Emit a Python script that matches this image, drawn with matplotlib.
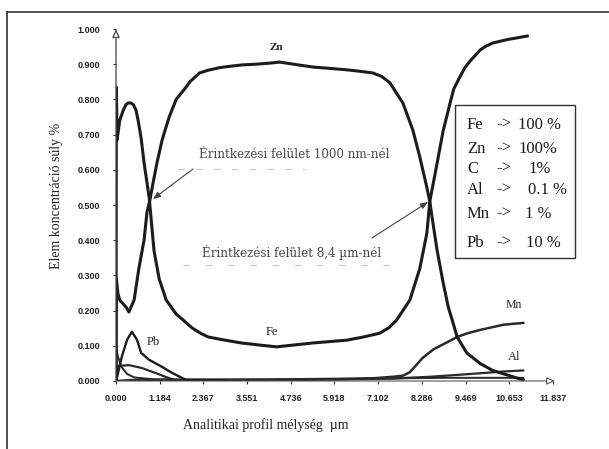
import matplotlib
matplotlib.use("Agg")
import matplotlib.pyplot as plt
from matplotlib.patches import Rectangle
from matplotlib.lines import Line2D

# ---------------- data ----------------
x_ticks = [0.0, 1.184, 2.367, 3.551, 4.736, 5.918, 7.102, 8.286, 9.469, 10.653, 11.837]
x_tick_labels = ["0.000", "1.184", "2.367", "3.551", "4.736", "5.918", "7.102",
                 "8.286", "9.469", "10.653", "11.837"]
y_ticks = [0.0, 0.1, 0.2, 0.3, 0.4, 0.5, 0.6, 0.7, 0.8, 0.9, 1.0]
y_tick_labels = ["0.000", "0.100", "0.200", "0.300", "0.400", "0.500",
                 "0.600", "0.700", "0.800", "0.900", "1.000"]

fe_x = [0, 0.01, 0.03, 0.1, 0.2, 0.27, 0.33, 0.4, 0.47, 0.54, 0.6, 0.68, 0.76, 0.9, 1.03,
        1.17, 1.36, 1.63, 1.8, 2.07, 2.3, 2.5, 2.9, 3.4, 3.9, 4.35, 5.33, 6.25, 6.7, 7.15,
        7.4, 7.6, 7.96, 8.23, 8.42, 8.5, 8.7, 8.86, 9.05, 9.15, 9.32, 9.45, 9.6, 9.86, 10.0,
        10.2, 10.6, 11.14]
fe_y = [0, 0.835, 0.685, 0.74, 0.77, 0.785, 0.79, 0.79, 0.785, 0.77, 0.74, 0.69, 0.62, 0.52, 0.37,
        0.29, 0.23, 0.19, 0.175, 0.15, 0.135, 0.125, 0.117, 0.108, 0.102, 0.097, 0.108, 0.116, 0.125, 0.136,
        0.152, 0.173, 0.23, 0.32, 0.42, 0.51, 0.62, 0.71, 0.79, 0.83, 0.865, 0.89, 0.91, 0.94, 0.95,
        0.96, 0.97, 0.98]

zn_x = [0, 0.01, 0.05, 0.1, 0.27, 0.35, 0.49, 0.62, 0.76, 0.84, 0.92, 0.98, 1.11, 1.25,
        1.44, 1.63, 1.9, 2.0, 2.26, 2.5, 2.8, 3.0, 3.42, 3.8, 4.16, 4.43, 5.0, 5.33, 5.8, 6.25,
        6.6, 6.96, 7.2, 7.42, 7.77, 8.04, 8.23, 8.42, 8.5, 8.56, 8.7, 8.86, 9.0, 9.13, 9.24,
        9.5, 9.86, 10.2, 10.6, 11.03]
zn_y = [0, 0.29, 0.25, 0.23, 0.21, 0.196, 0.23, 0.32, 0.40, 0.48, 0.515, 0.55, 0.62, 0.685,
        0.75, 0.80, 0.835, 0.85, 0.875, 0.883, 0.89, 0.893, 0.898, 0.9, 0.903, 0.906, 0.897, 0.892, 0.888, 0.884,
        0.88, 0.875, 0.865, 0.847, 0.79, 0.713, 0.636, 0.55, 0.51, 0.466, 0.37, 0.28, 0.21, 0.165, 0.125,
        0.08, 0.05, 0.03, 0.017, 0.003]

pb_x = [0, 0.05, 0.16, 0.3, 0.43, 0.57, 0.68, 0.9, 1.25, 1.52, 1.9, 3.0]
pb_y = [0.0, 0.02, 0.07, 0.117, 0.14, 0.117, 0.08, 0.06, 0.04, 0.023, 0.003, 0.002]

al_x = [0, 0.05, 0.35, 0.7, 1.09, 1.44, 1.63, 3.0, 5.0, 6.5, 7.5, 8.5, 9.2, 9.86, 10.5, 11.03]
al_y = [0.0, 0.043, 0.045, 0.037, 0.022, 0.008, 0.002, 0.002, 0.003, 0.005, 0.007, 0.012,
        0.017, 0.022, 0.027, 0.03]

mn_x = [0, 0.5, 2, 4, 6, 7, 7.5, 7.77, 7.96, 8.3, 8.6, 8.97, 9.24, 9.5, 9.86, 10.2, 10.5, 11.03]
mn_y = [0.0, 0.003, 0.003, 0.004, 0.006, 0.008, 0.012, 0.015, 0.025, 0.065, 0.09, 0.11,
        0.125, 0.135, 0.145, 0.153, 0.16, 0.165]

c_x = [0, 0.05, 0.15, 0.3, 0.5, 1.0, 2, 4, 6, 8, 9, 10, 11.03, 11.04]
c_y = [0.1, 0.07, 0.04, 0.02, 0.01, 0.005, 0.004, 0.004, 0.005, 0.008, 0.009, 0.009, 0.009, 0.0]

legend_elems = ["Fe", "Zn", "C", "Al", "Mn", "Pb"]
legend_vals = ["100 %", "100%", "1%", "0.1 %", "1 %", "10 %"]

# ---------------- figure ----------------
W, H = 609, 449
fig = plt.figure(figsize=(W / 100, H / 100), dpi=100)
fig.patch.set_facecolor("white")

def fx(px):
    return px / W

def fy(py):
    return 1 - py / H

ax = fig.add_axes([fx(116), fy(381), (553 - 116) / W, 352 / H])
ax.set_xlim(0, 11.837)
ax.set_ylim(0, 1.0)
for s in ax.spines.values():
    s.set_visible(False)

ink = "#1c1c1c"
ax.plot(c_x, c_y, color="#2a2a2a", lw=1.4, solid_joinstyle="round")
ax.plot(al_x, al_y, color="#2a2a2a", lw=1.6, solid_joinstyle="round")
ax.plot(mn_x, mn_y, color="#2a2a2a", lw=1.8, solid_joinstyle="round")
ax.plot(pb_x, pb_y, color=ink, lw=1.7, solid_joinstyle="round")
ax.plot(zn_x, zn_y, color=ink, lw=2.2, solid_joinstyle="round")
ax.plot(fe_x, fe_y, color=ink, lw=2.2, solid_joinstyle="round")

# axes lines with open arrowheads
ax.annotate("", xy=(0, 1.0), xytext=(0, 0), annotation_clip=False,
            arrowprops=dict(arrowstyle="-|>,head_length=0.5,head_width=0.22",
                            fc="white", ec="#444", lw=0.9, shrinkA=0, shrinkB=0))
ax.annotate("", xy=(11.89, 0), xytext=(0, 0), annotation_clip=False,
            arrowprops=dict(arrowstyle="-|>,head_length=0.5,head_width=0.22",
                            fc="white", ec="#555", lw=0.8, shrinkA=0, shrinkB=0))

ax.set_xticks(x_ticks)
ax.set_xticklabels(x_tick_labels)
ax.set_yticks(y_ticks)
ax.set_yticklabels(y_tick_labels)
ax.tick_params(axis="x", direction="out", length=2.2, width=0.8, color="#333", pad=7.0,
               labelsize=6.5, labelcolor="#222")
ax.tick_params(axis="y", direction="out", length=2.2, width=0.8, color="#333", pad=9.5,
               labelsize=6.5, labelcolor="#222")
for lab in ax.get_xticklabels() + ax.get_yticklabels():
    lab.set_fontfamily("Liberation Sans")
    lab.set_fontweight("bold")

serif = "Liberation Serif"

# axis titles
fig.text(fx(57), fy(196), "Elem koncentráció súly %", rotation=90, ha="center", va="center",
         fontsize=10, family=serif, color="#222")
fig.text(fx(183), fy(425), "Analitikai profil mélység  µm", ha="left", va="center",
         fontsize=10, family=serif, color="#222")

# curve labels
fig.text(fx(276), fy(48), "Zn", ha="center", va="center", fontsize=8, family=serif,
         fontweight="bold", color="#222")
fig.text(fx(272), fy(332), "Fe", ha="center", va="center", fontsize=9, family=serif, color="#222")
fig.text(fx(153), fy(342), "Pb", ha="center", va="center", fontsize=9, family=serif, color="#222")
fig.text(fx(514), fy(305), "Mn", ha="center", va="center", fontsize=8.5, family=serif, color="#222")
fig.text(fx(514), fy(357), "Al", ha="center", va="center", fontsize=9, family=serif, color="#222")

# interface annotations
fig.text(fx(294), fy(155), "Érintkezési felület 1000 nm-nél", ha="center", va="center",
         fontsize=8.6, family="DejaVu Serif", color="#4a4a4a")
fig.text(fx(292), fy(253), "Érintkezési felület 8,4 µm-nél", ha="center", va="center",
         fontsize=8.6, family="DejaVu Serif", color="#4a4a4a")
ax.annotate("", xy=(fx(153), fy(199)), xycoords="figure fraction",
            xytext=(fx(193), fy(169)), textcoords="figure fraction",
            arrowprops=dict(arrowstyle="-|>,head_length=0.45,head_width=0.18",
                            color="#444", lw=0.8, shrinkA=0, shrinkB=0))
ax.annotate("", xy=(fx(428), fy(202)), xycoords="figure fraction",
            xytext=(fx(372), fy(238)), textcoords="figure fraction",
            arrowprops=dict(arrowstyle="-|>,head_length=0.45,head_width=0.18",
                            color="#444", lw=0.8, shrinkA=0, shrinkB=0))
# faint scan underlines
fig.add_artist(Line2D([fx(178), fx(305)], [fy(169), fy(169)], color="#c8c8c8", lw=0.8,
                      ls=(0, (6, 10))))
fig.add_artist(Line2D([fx(183), fx(400)], [fy(265), fy(265)], color="#c8c8c8", lw=0.8,
                      ls=(0, (6, 14))))

# legend box
fig.add_artist(Rectangle((fx(455), fy(258)), (575 - 455) / W, (258 - 105) / H,
                         fill=False, ec="#333", lw=1.0))
row_y = [125, 149, 169, 190, 214, 243]
val_x = [518, 518, 528, 528, 525, 526]
for el, v, ry, vx in zip(legend_elems, legend_vals, row_y, val_x):
    fig.text(fx(467), fy(ry), el, ha="left", va="center", fontsize=12, family=serif, color="#1a1a1a")
    fig.text(fx(496), fy(ry), "->", ha="left", va="center", fontsize=12, family=serif, color="#1a1a1a")
    fig.text(fx(vx), fy(ry), v, ha="left", va="center", fontsize=12, family=serif, color="#1a1a1a")

# page frame
fig.add_artist(Line2D([fx(7), fx(7)], [fy(12), fy(449)], color="#333", lw=1.2))
fig.add_artist(Line2D([fx(7), fx(609)], [fy(12), fy(12)], color="#333", lw=1.2))

fig.savefig("out.png", dpi=100, facecolor="white")
